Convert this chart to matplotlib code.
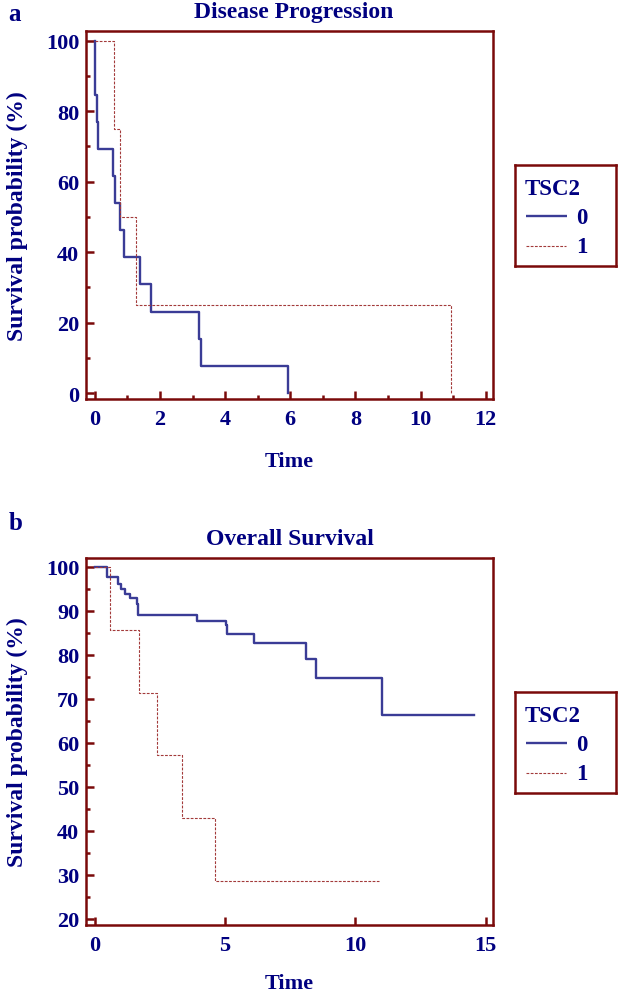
import matplotlib
matplotlib.use("Agg")
import matplotlib.pyplot as plt
from matplotlib.ticker import MultipleLocator

# ---------------- data ----------------
group_labels = ["0", "1"]
legend_title = "TSC2"

# Panel a: Disease Progression
dp_time_0 = [0, 0.01, 0.08, 0.11, 0.55, 0.62, 0.78, 0.90, 1.40, 1.74, 3.21, 3.25, 5.94]
dp_surv_0 = [100, 84.6, 76.9, 69.2, 61.5, 53.8, 46.2, 38.5, 30.8, 23.1, 15.4, 7.7, 0]
dp_time_1 = [0, 0.58, 0.78, 1.27, 10.93]
dp_surv_1 = [100, 75, 50, 25, 0]

# Panel b: Overall Survival
os_time_0 = [0, 0.48, 0.91, 1.00, 1.15, 1.35, 1.61, 1.67, 3.91, 5.04, 5.09, 6.12, 8.10, 8.49, 11.01, 14.55]
os_surv_0 = [100, 97.6, 96.2, 94.9, 93.8, 92.9, 91.5, 89.0, 87.7, 86.7, 84.7, 82.7, 79.0, 74.6, 66.4, 66.4]
os_time_1 = [0, 0.59, 1.71, 2.40, 3.34, 4.61, 10.9]
os_surv_1 = [100, 85.7, 71.4, 57.1, 42.9, 28.6, 28.6]

dp_xticks = [0, 2, 4, 6, 8, 10, 12]
dp_yticks = [0, 20, 40, 60, 80, 100]
os_xticks = [0, 5, 10, 15]
os_yticks = [20, 30, 40, 50, 60, 70, 80, 90, 100]

# ---------------- style ----------------
FONT = ["Liberation Serif", "DejaVu Serif"]
TXT = "#000080"
SPINE = "#7a0a0a"
BLUE = "#3a3c96"
RED = "#a33a3a"
FS = 16
DASH = (0, (2.5, 1.3))

plt.rcParams["font.family"] = FONT
plt.rcParams["font.weight"] = "bold"

fig = plt.figure(figsize=(6.19, 9.95), dpi=100)
W, H = 619, 995

def fx(px):
    return px / W

def fy(py):
    return 1 - py / H

def style_axes(ax, xlim, ylim, xticks, yticks, xminor, yminor):
    ax.set_xlim(*xlim)
    ax.set_ylim(*ylim)
    ax.set_xticks(xticks)
    ax.set_yticks(yticks)
    if xminor:
        ax.xaxis.set_minor_locator(MultipleLocator(xminor))
    if yminor:
        ax.yaxis.set_minor_locator(MultipleLocator(yminor))
    for sp in ax.spines.values():
        sp.set_color(SPINE)
        sp.set_linewidth(1.8)
    ax.tick_params(which="both", direction="in", color=SPINE, width=1.8,
                   top=False, right=False)
    ax.tick_params(which="major", length=5.8)
    ax.tick_params(which="minor", length=3.2)
    ax.tick_params(axis="y", which="major", pad=4.8, labelsize=FS, labelcolor=TXT)
    ax.tick_params(axis="x", which="major", pad=7.5, labelsize=FS, labelcolor=TXT)
    for lab in ax.get_xticklabels() + ax.get_yticklabels():
        lab.set_fontweight("bold")

def legend_box(top_px):
    lax = fig.add_axes([fx(515), fy(top_px + 101), fx(101), 101 / H])
    lax.set_xlim(0, 101)
    lax.set_ylim(101, 0)
    lax.set_xticks([])
    lax.set_yticks([])
    for sp in lax.spines.values():
        sp.set_color(SPINE)
        sp.set_linewidth(1.8)
    lax.text(10, 29.3, legend_title, fontsize=16.5, fontweight="bold", color=TXT,
             va="baseline", ha="left")
    lax.plot([11, 52], [51, 51], color=BLUE, lw=1.7, solid_capstyle="butt")
    lax.plot([11, 51], [81, 81], color=RED, lw=0.8, linestyle=DASH)
    lax.text(61.5, 58.3, group_labels[0], fontsize=16.5, fontweight="bold", color=TXT,
             va="baseline", ha="left")
    lax.text(61.5, 87.3, group_labels[1], fontsize=16.5, fontweight="bold", color=TXT,
             va="baseline", ha="left")

# ---------------- panel a ----------------
ax1 = fig.add_axes([fx(86), fy(400), fx(407.3), (400 - 32) / H])
ax1.step(dp_time_0, dp_surv_0, where="post", color=BLUE, lw=1.7)
ax1.step(dp_time_1, dp_surv_1, where="post", color=RED, lw=0.8, linestyle=DASH)
style_axes(ax1, (-0.27, 12.23), (-1.7, 102.7), dp_xticks, dp_yticks, 1, 10)
ax1.set_title("Disease Progression", fontsize=17, fontweight="bold", color=TXT,
              pad=10.0, x=0.51)
ax1.set_xlabel("Time", fontsize=FS, fontweight="bold", color=TXT)
ax1.xaxis.set_label_coords(0.5, -0.141)
ax1.set_ylabel("Survival probability (%)", fontsize=17, fontweight="bold", color=TXT)
ax1.yaxis.set_label_coords(-0.142, 0.5)
fig.text(fx(8), fy(21), "a", fontsize=18, fontweight="bold", color=TXT,
         va="baseline", ha="left")
legend_box(165.7)

# ---------------- panel b ----------------
ax2 = fig.add_axes([fx(86), fy(925.7), fx(407.3), (925.7 - 559) / H])
ax2.step(os_time_0, os_surv_0, where="post", color=BLUE, lw=1.7)
ax2.step(os_time_1, os_surv_1, where="post", color=RED, lw=0.8, linestyle=DASH)
style_axes(ax2, (-0.33, 15.29), (18.6, 102.0), os_xticks, os_yticks, None, 5)
ax2.set_title("Overall Survival", fontsize=17, fontweight="bold", color=TXT, pad=10.3)
ax2.set_xlabel("Time", fontsize=FS, fontweight="bold", color=TXT)
ax2.xaxis.set_label_coords(0.5, -0.133)
ax2.set_ylabel("Survival probability (%)", fontsize=17, fontweight="bold", color=TXT)
ax2.yaxis.set_label_coords(-0.142, 0.5)
fig.text(fx(9), fy(530), "b", fontsize=18, fontweight="bold", color=TXT,
         va="baseline", ha="left")
legend_box(692.7)

fig.savefig("out.png", dpi=100)
